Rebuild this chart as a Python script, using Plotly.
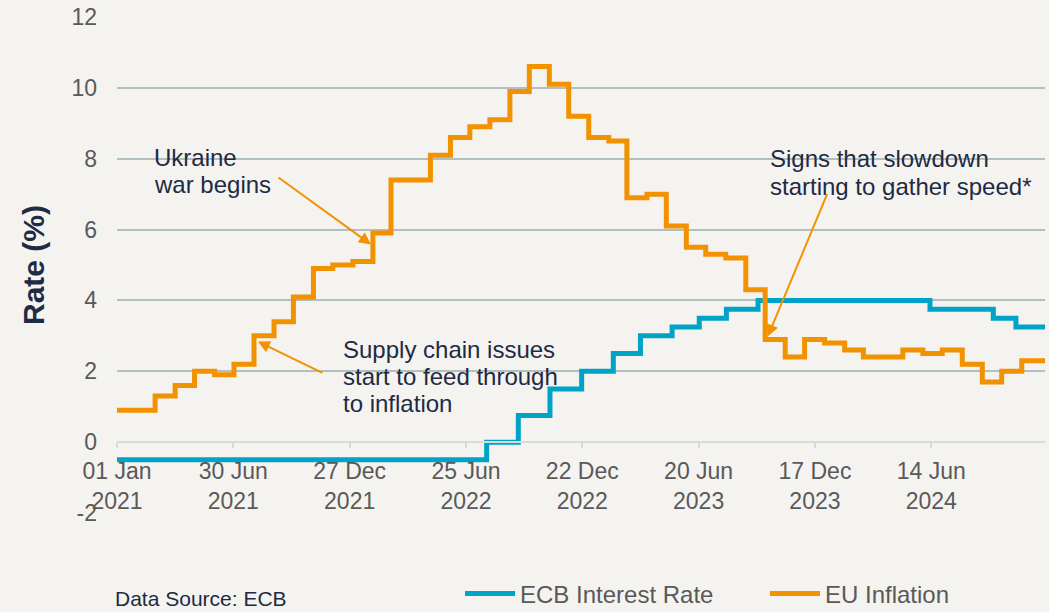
import plotly.graph_objects as go

# ---------------- data ----------------
infl_dates = [
    "2021-01-01", "2021-02-01", "2021-03-01", "2021-04-01", "2021-05-01", "2021-06-01",
    "2021-07-01", "2021-08-01", "2021-09-01", "2021-10-01", "2021-11-01", "2021-12-01",
    "2022-01-01", "2022-02-01", "2022-03-01", "2022-04-01", "2022-05-01", "2022-06-01",
    "2022-07-01", "2022-08-01", "2022-09-01", "2022-10-01", "2022-11-01", "2022-12-01",
    "2023-01-01", "2023-02-01", "2023-03-01", "2023-04-01", "2023-05-01", "2023-06-01",
    "2023-07-01", "2023-08-01", "2023-09-01", "2023-10-01", "2023-11-01", "2023-12-01",
    "2024-01-01", "2024-02-01", "2024-03-01", "2024-04-01", "2024-05-01", "2024-06-01",
    "2024-07-01", "2024-08-01", "2024-09-01", "2024-10-01", "2024-11-01", "2024-12-07",
]
infl_values = [
    0.9, 0.9, 1.3, 1.6, 2.0, 1.9, 2.2, 3.0, 3.4, 4.1, 4.9, 5.0,
    5.1, 5.9, 7.4, 7.4, 8.1, 8.6, 8.9, 9.1, 9.9, 10.6, 10.1, 9.2,
    8.6, 8.5, 6.9, 7.0, 6.1, 5.5, 5.3, 5.2, 4.3, 2.9, 2.4, 2.9,
    2.8, 2.6, 2.4, 2.4, 2.6, 2.5, 2.6, 2.2, 1.7, 2.0, 2.3, 2.3,
]

ecb_dates = [
    "2021-01-01", "2022-07-27", "2022-09-14", "2022-11-02", "2022-12-21",
    "2023-02-08", "2023-03-22", "2023-05-10", "2023-06-21", "2023-08-02",
    "2023-09-20", "2024-06-12", "2024-09-18", "2024-10-23", "2024-12-07",
]
ecb_values = [
    -0.5, 0.0, 0.75, 1.5, 2.0,
    2.5, 3.0, 3.25, 3.5, 3.75,
    4.0, 3.75, 3.5, 3.25, 3.25,
]

x_tick_vals = ["2021-01-01", "2021-06-30", "2021-12-27", "2022-06-25",
               "2022-12-22", "2023-06-20", "2023-12-17", "2024-06-14"]
x_tick_text = ["01 Jan<br>2021", "30 Jun<br>2021", "27 Dec<br>2021", "25 Jun<br>2022",
               "22 Dec<br>2022", "20 Jun<br>2023", "17 Dec<br>2023", "14 Jun<br>2024"]
y_tick_vals = [-2, 0, 2, 4, 6, 8, 10, 12]
y_tick_text = ["-2", "0", "2", "4", "6", "8", "10", "12"]

# ---------------- style ----------------
BG = "#f4f3ef"
TEAL = "#00a3c8"
ORANGE = "#f39200"
NAVY = "#1f2a44"
GREY_TXT = "#595959"
FONT = "Arial, Liberation Sans, sans-serif"

W, H = 1049, 612
L, R, T, B = 117, 4, 17, 99
PW, PH = W - L - R, H - T - B


def px_x(p):
    return (p - L) / PW


def px_y(p):
    return (H - B - p) / PH


fig = go.Figure()
fig.add_trace(go.Scatter(x=ecb_dates, y=ecb_values, mode="lines", line_shape="hv",
                         name="ECB Interest Rate", line=dict(color=TEAL, width=5)))
fig.add_trace(go.Scatter(x=infl_dates, y=infl_values, mode="lines", line_shape="hv",
                         name="EU Inflation", line=dict(color=ORANGE, width=5)))

annotations = []

text_lines = [
    ("Ukraine", 152, 157), ("war begins", 152, 184),
    ("Supply chain issues", 341, 349), ("start to feed through", 341, 376),
    ("to inflation", 341, 403),
    ("Signs that slowdown", 768, 158), ("starting to gather speed*", 768, 186),
]
for txt, px, py in text_lines:
    annotations.append(dict(text=txt, x=px_x(px), y=px_y(py), xref="paper", yref="paper",
                            xanchor="left", yanchor="middle", showarrow=False,
                            font=dict(size=24, color=NAVY, family=FONT)))

arrows = [
    ("2022-01-29", 5.58, -94, -68),
    ("2021-08-07", 2.84, 66, 32),
    ("2023-10-05", 2.98, 60, -144),
]
for ax_date, ay_val, dx, dy in arrows:
    annotations.append(dict(text="", x=ax_date, y=ay_val, xref="x", yref="y",
                            ax=dx, ay=dy, showarrow=True, arrowhead=2, arrowsize=1.2,
                            arrowwidth=2, arrowcolor=ORANGE, standoff=0))

annotations.append(dict(text="Data Source: ECB", x=px_x(113), y=px_y(598), xref="paper",
                        yref="paper", xanchor="left", yanchor="middle", showarrow=False,
                        font=dict(size=21, color=NAVY, family=FONT)))

fig.update_layout(
    width=W, height=H,
    margin=dict(l=L, r=R, t=T, b=B, autoexpand=False),
    paper_bgcolor=BG, plot_bgcolor=BG,
    font=dict(family=FONT, color=GREY_TXT),
    showlegend=True,
    legend=dict(orientation="h", x=px_x(460), y=px_y(594), xanchor="left", yanchor="middle",
                font=dict(size=24, color=GREY_TXT), bgcolor="rgba(0,0,0,0)",
                itemwidth=50, entrywidth=240, entrywidthmode="pixels"),
    annotations=annotations,
    xaxis=dict(type="date", range=["2021-01-01", "2024-12-07"],
               tickvals=x_tick_vals, ticktext=x_tick_text,
               anchor="free", position=2 / 14,
               showgrid=False, showline=True, linecolor="#d9d9d9", linewidth=2,
               ticks="outside", ticklen=5, tickwidth=1.5, tickcolor="#d9d9d9",
               ticklabelstandoff=3,
               tickfont=dict(size=23, color=GREY_TXT), fixedrange=True),
    yaxis=dict(range=[-2, 12], tickvals=y_tick_vals, ticktext=y_tick_text, domain=[0, 1],
               showgrid=True, gridcolor="#b0bfc2", gridwidth=1.5,
               zeroline=True, zerolinecolor="#d9d9d9", zerolinewidth=2,
               tickfont=dict(size=23, color=GREY_TXT), ticklabelstandoff=19,
               title=dict(text="<b>Rate (%)</b>", font=dict(size=30, color=NAVY),
                          standoff=17),
               automargin=False, fixedrange=True),
)

fig.write_html("out.html", config={"displayModeBar": False},
               post_script="document.body.style.margin='0';")
